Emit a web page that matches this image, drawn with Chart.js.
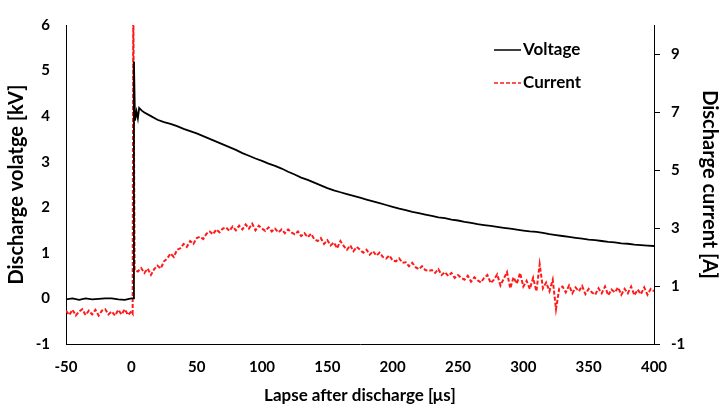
<!DOCTYPE html>
<html>
<head>
<meta charset="utf-8">
<script src="https://cdn.jsdelivr.net/npm/chart.js@4"></script>
<style>
  body { margin: 0; background: #fff; }
  #wrap { width: 725px; height: 412px; }
</style>
</head>
<body>
<div id="wrap"><canvas id="dischargeChart"></canvas></div>
<script>
// voltage trace [kV], left axis
const voltageTimes = [
  -50, -45, -40, -35, -30, -25, -20, -15, -10, -5, 0,
  1.5, 2, 2.8, 4, 5, 6, 8,
  10, 15, 20, 25, 30, 35, 40, 45, 50, 55, 60, 65, 70, 75, 80, 85, 90, 95,
  100, 105, 110, 115, 120, 125, 130, 135, 140, 145, 150, 155, 160, 165, 170, 175,
  180, 185, 190, 195, 200, 205, 210, 215, 220, 225, 230, 235, 240, 245, 250, 255,
  260, 265, 270, 275, 280, 285, 290, 295, 300, 305, 310, 315, 320, 325, 330, 335,
  340, 345, 350, 355, 360, 365, 370, 375, 380, 385, 390, 395, 400
];
const voltageValues = [
  -0.02, 0.0, -0.03, 0.0, -0.02, -0.01, 0.0, 0.0, -0.02, -0.03, 0.0,
  0.0, 5.2, 3.9, 4.1, 3.95, 4.18, 4.12,
  4.08, 4.0, 3.92, 3.87, 3.83, 3.78, 3.72, 3.67, 3.62, 3.56, 3.5, 3.44, 3.38, 3.32, 3.26, 3.19, 3.13, 3.07,
  3.02, 2.96, 2.91, 2.85, 2.78, 2.72, 2.65, 2.6, 2.54, 2.48, 2.42, 2.37, 2.33, 2.29, 2.25, 2.21,
  2.17, 2.13, 2.09, 2.05, 2.01, 1.97, 1.94, 1.9, 1.87, 1.84, 1.81, 1.78, 1.76, 1.73, 1.71, 1.68,
  1.66, 1.63, 1.61, 1.59, 1.57, 1.55, 1.53, 1.51, 1.49, 1.47, 1.46, 1.44, 1.41, 1.39, 1.37, 1.35,
  1.33, 1.31, 1.29, 1.28, 1.26, 1.24, 1.23, 1.21, 1.2, 1.18, 1.17, 1.16, 1.15
];

// current trace [A], right axis
const currentTimes = [
  -50, -47.5, -45, -42.5, -40, -37.5, -35, -32.5, -30, -27.5, -25, -22.5, -20, -17.5, -15, -12.5, -10, -7.5, -5, -2.5, 0,
  1, 1.5, 2.5,
  5, 7.5, 10, 12.5, 15, 17.5, 20, 22.5, 25, 27.5,
  30, 32.5, 35, 37.5, 40, 42.5, 45, 47.5, 50, 52.5,
  55, 57.5, 60, 62.5, 65, 67.5, 70, 72.5, 75, 77.5,
  80, 82.5, 85, 87.5, 90, 92.5, 95, 97.5, 100, 102.5,
  105, 107.5, 110, 112.5, 115, 117.5, 120, 122.5, 125, 127.5,
  130, 132.5, 135, 137.5, 140, 142.5, 145, 147.5, 150, 152.5,
  155, 157.5, 160, 162.5, 165, 167.5, 170, 172.5, 175, 177.5,
  180, 182.5, 185, 187.5, 190, 192.5, 195, 197.5, 200, 202.5,
  205, 207.5, 210, 212.5, 215, 217.5, 220, 222.5, 225, 227.5,
  230, 232.5, 235, 237.5, 240, 242.5, 245, 247.5, 250, 252.5,
  255, 257.5, 260, 262.5, 265, 267.5, 270, 272.5, 275, 277.5,
  280, 282.5, 285, 287.5, 290, 292.5, 295, 297.5, 300, 302.5,
  305, 307.5, 310, 312.5, 315, 317.5, 320, 322.5, 325, 327.5,
  330, 332.5, 335, 337.5, 340, 342.5, 345, 347.5, 350, 352.5,
  355, 357.5, 360, 362.5, 365, 367.5, 370, 372.5, 375, 377.5,
  380, 382.5, 385, 387.5, 390, 392.5, 395, 397.5, 400
];
const currentValues = [
  0.15, 0.0, 0.18, -0.02, 0.12, 0.2, 0.0, 0.15, 0.02, 0.18, -0.02, 0.15, 0.2, 0.02, 0.12, -0.02, 0.18, 0.02, 0.2, 0.0, 0.12,
  0.05, 11, 1.55,
  1.5, 1.62, 1.45, 1.6, 1.38, 1.58, 1.7, 1.6, 1.85, 1.95,
  2.12, 2.0, 2.25, 2.3, 2.45, 2.35, 2.55, 2.45, 2.65, 2.7,
  2.62, 2.8, 2.88, 2.78, 2.95, 2.85, 2.98, 3.02, 2.9, 3.05,
  2.92, 3.08, 2.95, 3.12, 2.98, 3.15, 2.92, 3.08, 2.98, 2.9,
  3.02, 2.88, 2.98, 2.85, 2.95, 2.82, 2.95, 2.85, 2.78, 2.88,
  2.72, 2.82, 2.68, 2.8, 2.62, 2.55, 2.65, 2.45, 2.58, 2.4,
  2.5, 2.3, 2.55, 2.38, 2.25, 2.4, 2.2, 2.35, 2.25, 2.15,
  2.25, 2.08, 2.2, 2.05, 2.15, 2.0, 1.95, 2.05, 1.88, 1.85,
  1.95, 1.8, 1.82, 1.68, 1.8, 1.65, 1.58, 1.68, 1.55, 1.52,
  1.55, 1.45, 1.58, 1.38, 1.48, 1.35, 1.45, 1.28, 1.38, 1.28,
  1.22, 1.35, 1.15, 1.3, 1.2, 1.12, 1.28, 1.38, 1.1, 1.22,
  1.4, 1.02, 1.25, 1.48, 0.92, 1.3, 1.08, 1.45, 0.98, 1.18,
  0.9, 1.28, 0.82, 1.75, 0.92, 1.12, 0.82, 1.22, 0.2, 0.92,
  0.98, 0.78, 1.02, 0.75, 0.95, 0.82, 1.0, 0.72, 0.9, 0.78,
  0.7, 0.92, 0.75, 0.98, 0.68, 0.88, 0.78, 0.95, 0.7, 0.9,
  0.75, 0.98, 0.68, 0.88, 0.72, 0.95, 0.7, 0.9, 0.82
];

const xTicks = [-50, 0, 50, 100, 150, 200, 250, 300, 350, 400];
const leftTicks = [-1, 0, 1, 2, 3, 4, 5, 6];
const rightTicks = [-1, 1, 3, 5, 7, 9];

const FONT = 'Lato, "Open Sans", sans-serif';
const tickFont = { family: FONT, size: 15, weight: 'bold' };
const xTitleFont = { family: FONT, size: 17, weight: 'bold' };
const yTitleFont = { family: FONT, size: 20, weight: 'bold' };

const pts = (xs, ys) => xs.map((x, i) => ({ x: x, y: ys[i] }));
const useTicks = list => scale => { scale.ticks = list.map(v => ({ value: v })); };

// legend drawn inside the plot, top right
const insideLegend = {
  id: 'insideLegend',
  afterDraw(chart) {
    const ctx = chart.ctx;
    const rows = [
      { ds: chart.data.datasets[0], y: 50 },
      { ds: chart.data.datasets[1], y: 83 }
    ];
    ctx.save();
    rows.forEach(r => {
      ctx.strokeStyle = r.ds.borderColor;
      ctx.lineWidth = 1.5;
      ctx.setLineDash(r.ds.borderDash || []);
      ctx.beginPath();
      ctx.moveTo(494, r.y);
      ctx.lineTo(521, r.y);
      ctx.stroke();
      ctx.setLineDash([]);
      ctx.fillStyle = '#000';
      ctx.font = 'bold 17px ' + FONT;
      ctx.textBaseline = 'middle';
      ctx.textAlign = 'left';
      ctx.fillText(r.ds.label, 523, r.y);
    });
    ctx.restore();
  }
};

new Chart(document.getElementById('dischargeChart'), {
  type: 'line',
  data: {
    datasets: [
      {
        label: 'Voltage',
        data: pts(voltageTimes, voltageValues),
        yAxisID: 'y',
        borderColor: '#000000',
        borderWidth: 1.8,
        pointRadius: 0,
        tension: 0
      },
      {
        label: 'Current',
        data: pts(currentTimes, currentValues),
        yAxisID: 'y1',
        borderColor: '#ff1a1a',
        borderWidth: 2,
        borderDash: [4, 2],
        pointRadius: 0,
        tension: 0
      }
    ]
  },
  options: {
    responsive: true,
    maintainAspectRatio: false,
    animation: false,
    layout: { padding: { top: 14, left: 0, right: 0, bottom: 0 } },
    plugins: {
      legend: { display: false },
      tooltip: { enabled: false }
    },
    scales: {
      x: {
        type: 'linear',
        min: -50,
        max: 400,
        afterBuildTicks: useTicks(xTicks),
        afterFit: s => { s.height = 68; },
        ticks: { font: tickFont, color: '#000', padding: 14, maxRotation: 0 },
        grid: { display: false, drawTicks: false },
        border: { display: true, color: '#000', width: 1 },
        title: { display: true, text: 'Lapse after discharge [μs]', font: xTitleFont, color: '#000', padding: 6 }
      },
      y: {
        position: 'left',
        min: -1,
        max: 6,
        afterBuildTicks: useTicks(leftTicks),
        afterFit: s => { s.width = 66; },
        ticks: { font: tickFont, color: '#000', padding: 16 },
        grid: { display: false, drawTicks: false },
        border: { display: true, color: '#000', width: 1 },
        title: { display: true, text: 'Discharge volatge [kV]', font: yTitleFont, color: '#000', padding: 5 }
      },
      y1: {
        position: 'right',
        min: -1,
        max: 10,
        afterBuildTicks: useTicks(rightTicks),
        afterFit: s => { s.width = 71; },
        ticks: { font: tickFont, color: '#000', padding: 11 },
        grid: { display: true, drawOnChartArea: false, drawTicks: true, tickLength: 6, color: '#000' },
        border: { display: true, color: '#000', width: 1 },
        title: { display: true, text: 'Discharge current [A]', font: yTitleFont, color: '#000', padding: 4 }
      }
    }
  },
  plugins: [insideLegend]
});
</script>
</body>
</html>
